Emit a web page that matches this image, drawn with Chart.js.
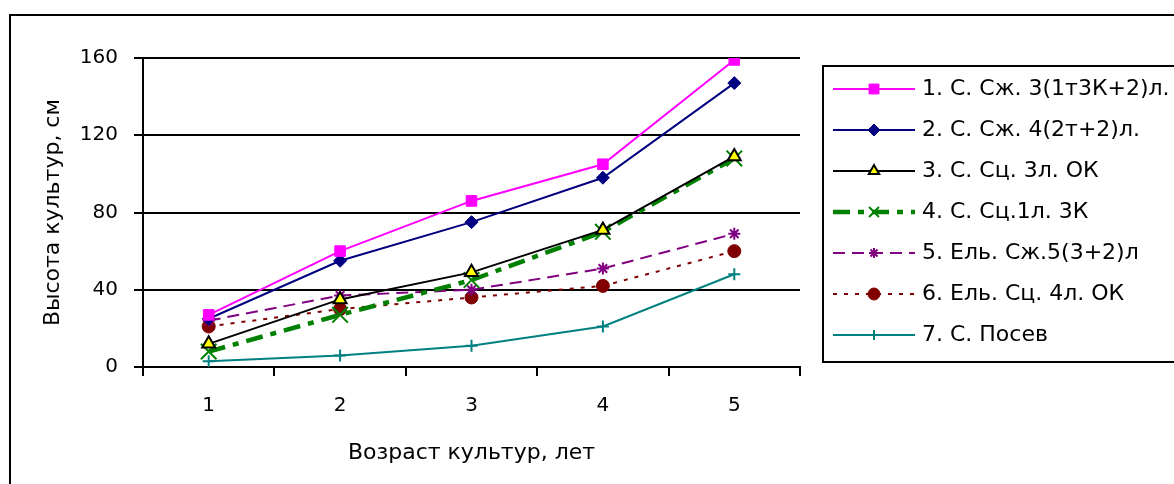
<!DOCTYPE html>
<html>
<head>
<meta charset="utf-8">
<script src="https://cdn.jsdelivr.net/npm/chart.js@4.4.1/dist/chart.umd.min.js"></script>
<style>
  html, body { margin: 0; padding: 0; background: #fff; }
  #wrap { position: relative; width: 1174px; height: 484px; overflow: hidden; }
</style>
</head>
<body>
<div id="wrap"><canvas id="mycanvas" width="1174" height="484"></canvas></div>
<script>
// ages (x categories)
var ages = ['1', '2', '3', '4', '5'];
var yTicks = [0, 40, 80, 120, 160];

var names = [
  '1. С. Сж. 3(1т3К+2)л.',
  '2. С. Сж. 4(2т+2)л.',
  '3. С. Сц. 3л. ОК',
  '4. С. Сц.1л. 3К',
  '5. Ель. Сж.5(3+2)л',
  '6. Ель. Сц. 4л. ОК',
  '7. С. Посев'
];

// heights, cm
var s1 = [27, 60, 86, 105, 159];
var s2 = [25, 55, 75, 98, 147];
var s3 = [12, 35, 49, 71, 109];
var s4 = [8, 27, 45, 70, 108];
var s5 = [24, 37, 40, 51, 69];
var s6 = [21, 30, 36, 42, 60];
var s7 = [3, 6, 11, 21, 48];

var FONT = '"DejaVu Sans", Arial, sans-serif';

function mk(label, data, color, opts) {
  var d = {
    label: label,
    data: data,
    borderColor: color,
    backgroundColor: color,
    borderWidth: 2,
    pointBorderColor: color,
    pointBackgroundColor: color,
    pointBorderWidth: 1,
    tension: 0,
    fill: false
  };
  for (var k in opts) d[k] = opts[k];
  return d;
}

var datasets = [
  mk(names[0], s1, '#FF00FF', { pointStyle: 'rect', pointRadius: 7.5, legendRadius: 7 }),
  mk(names[1], s2, '#000080', { pointStyle: 'rectRot', pointRadius: 6.5, legendRadius: 6 }),
  mk(names[2], s3, '#000000', { pointStyle: 'triangle', pointRadius: 7.5, pointBackgroundColor: '#FFFF00', pointBorderWidth: 2, legendRadius: 6 }),
  mk(names[3], s4, '#008000', { pointStyle: 'crossRot', pointRadius: 11, pointBorderWidth: 2, borderWidth: 4.5, borderDash: [17, 8, 6, 8], legendRadius: 7 }),
  mk(names[4], s5, '#800080', { pointStyle: 'star', pointRadius: 6, pointBorderWidth: 2, borderDash: [12, 7], legendRadius: 5 }),
  mk(names[5], s6, '#800000', { pointStyle: 'circle', pointRadius: 6.5, borderDash: [4, 7], legendRadius: 6 }),
  mk(names[6], s7, '#008080', { pointStyle: 'cross', pointRadius: 6, pointBorderWidth: 2, legendRadius: 5 })
];

// legend box + outer frame
var boxLegend = {
  id: 'boxLegend',
  afterDraw: function(chart) {
    var ctx = chart.ctx;
    ctx.save();
    ctx.strokeStyle = '#000';
    ctx.lineWidth = 2;
    ctx.setLineDash([]);
    ctx.strokeRect(10, 15, 1200, 500);
    ctx.strokeRect(823, 66, 400, 296);

    var y0 = 89, step = 41;
    chart.data.datasets.forEach(function(ds, i) {
      var y = y0 + i * step;
      ctx.save();
      ctx.strokeStyle = ds.borderColor;
      ctx.lineWidth = ds.borderWidth;
      ctx.setLineDash(ds.borderDash || []);
      ctx.beginPath();
      ctx.moveTo(833, y);
      ctx.lineTo(915, y);
      ctx.stroke();
      ctx.setLineDash([]);
      ctx.fillStyle = ds.pointBackgroundColor;
      ctx.strokeStyle = ds.pointBorderColor;
      ctx.lineWidth = ds.pointBorderWidth;
      Chart.helpers.drawPoint(ctx, { pointStyle: ds.pointStyle, radius: ds.legendRadius, borderWidth: ds.pointBorderWidth, rotation: 0 }, 874, y);
      ctx.restore();

      ctx.fillStyle = '#000';
      ctx.font = '22px ' + FONT;
      ctx.textBaseline = 'middle';
      ctx.textAlign = 'left';
      ctx.fillText(ds.label, 922, y);
    });
    ctx.restore();
  }
};

var ctx = document.getElementById('mycanvas');

var lineGraph = new Chart(ctx, {
  type: 'line',
  data: { labels: ages, datasets: datasets },
  plugins: [boxLegend],
  options: {
    responsive: false,
    devicePixelRatio: 1,
    animation: false,
    layout: { padding: { left: 0, top: 58, right: 374, bottom: 0 } },
    plugins: {
      legend: { display: false },
      tooltip: { enabled: false }
    },
    scales: {
      x: {
        offset: true,
        afterFit: function(scale) { scale.height = 117; },
        grid: { offset: true, drawOnChartArea: false, drawTicks: true, tickLength: 9, color: '#000', lineWidth: 2 },
        border: { color: '#000', width: 2 },
        ticks: { color: '#000', padding: 18, font: { family: FONT, size: 20 } },
        title: { display: true, text: 'Возраст культур, лет', color: '#000', padding: { top: 0, bottom: 18 }, font: { family: FONT, size: 22 } }
      },
      y: {
        min: 0,
        max: 160,
        afterFit: function(scale) { scale.width = 143; },
        afterBuildTicks: function(scale) { scale.ticks = yTicks.map(function(v) { return { value: v }; }); },
        grid: { color: '#000', lineWidth: 2, tickLength: 9, drawTicks: true },
        border: { color: '#000', width: 2 },
        ticks: { color: '#000', padding: 16, font: { family: FONT, size: 20 } },
        title: { display: true, text: 'Высота культур, см', color: '#000', padding: { top: 40, bottom: 0 }, font: { family: FONT, size: 22 } }
      }
    }
  }
});
</script>
</body>
</html>
